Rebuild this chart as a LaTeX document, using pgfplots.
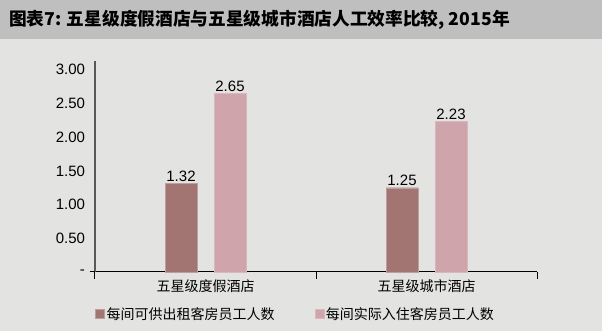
\documentclass[border=0pt]{standalone}
\usepackage{pgfplots}
\pgfplotsset{compat=1.18}
\usepackage{fontspec}
\setmainfont{Liberation Sans}
\newfontfamily\cjk{Noto Sans CJK SC}
\definecolor{bgl}{HTML}{E3E3E1}
\definecolor{bgt}{HTML}{BFBFBF}
\definecolor{bdark}{HTML}{A27572}
\definecolor{blight}{HTML}{CFA5AB}
\definecolor{yax}{HTML}{595959}
\begin{document}
\begin{tikzpicture}[x=1pt,y=1pt]
\useasboundingbox (0,0) rectangle (605,334);
\fill[white] (0,0) rectangle (605,334);
\fill[bgl] (0,3) rectangle (602,334);
\fill[bgt] (0,295) rectangle (602,334);
\node[anchor=west,inner sep=0] at (9,314) {\cjk\bfseries\fontsize{17.7pt}{20pt}\selectfont 图表7: 五星级度假酒店与五星级城市酒店人工效率比较, 2015年};
\begin{axis}[
  at={(95pt,62pt)}, anchor=origin,
  scale only axis, width=442pt, height=211pt,
  xmin=0.5, xmax=2.5, ymin=0, ymax=3.13,
  axis x line=bottom, axis y line=left,
  axis line style={-},
  x axis line style={black, line width=1pt},
  y axis line style={yax, line width=1.3pt},
  xtick={1,2}, xticklabels={五星级度假酒店,五星级城市酒店},
  xticklabel style={font=\cjk\fontsize{14pt}{16pt}\selectfont, yshift=-4pt},
  ytick={0,0.5,1,1.5,2,2.5,3},
  yticklabels={-,0.50,1.00,1.50,2.00,2.50,3.00},
  yticklabel style={font=\fontsize{15pt}{17pt}\selectfont, xshift=-6.5pt},
  major tick length=0pt,
  extra x ticks={0.5,1.5,2.5}, extra x tick labels={},
  extra x tick style={major tick length=7pt, tick align=outside, tick style={black, line width=1pt}},
  extra y ticks={0}, extra y tick labels={},
  extra y tick style={major tick length=5pt, tick align=outside, tick style={black, line width=1pt}},
  ybar, bar width=32pt,
  /pgf/number format/assume math mode=true,
  nodes near coords={\pgfmathprintnumber[fixed,fixed zerofill,precision=2]{\pgfplotspointmeta}},
  nodes near coords style={font=\fontsize{15pt}{17pt}\selectfont, black, inner sep=1.5pt},
  legend columns=2,
  legend style={at={(axis description cs:0,0)}, anchor=west, yshift=-42pt, draw=none, fill=none, inner sep=0pt,
    font=\cjk\fontsize{14pt}{16pt}\selectfont, /tikz/every even column/.append style={column sep=38pt}},
  legend image code/.code={\fill[#1] (0pt,-4.5pt) rectangle (9pt,4.5pt);},
  clip=false,
]
\addplot[fill=bdark, draw=bdark!70!white, bar shift=-24.5pt] coordinates {(1,1.32) (2,1.25)};
\addplot[fill=blight, draw=blight!80!white, bar shift=24.5pt] coordinates {(1,2.65) (2,2.23)};
\legend{每间可供出租客房员工人数,每间实际入住客房员工人数}
\end{axis}
\end{tikzpicture}
\end{document}
